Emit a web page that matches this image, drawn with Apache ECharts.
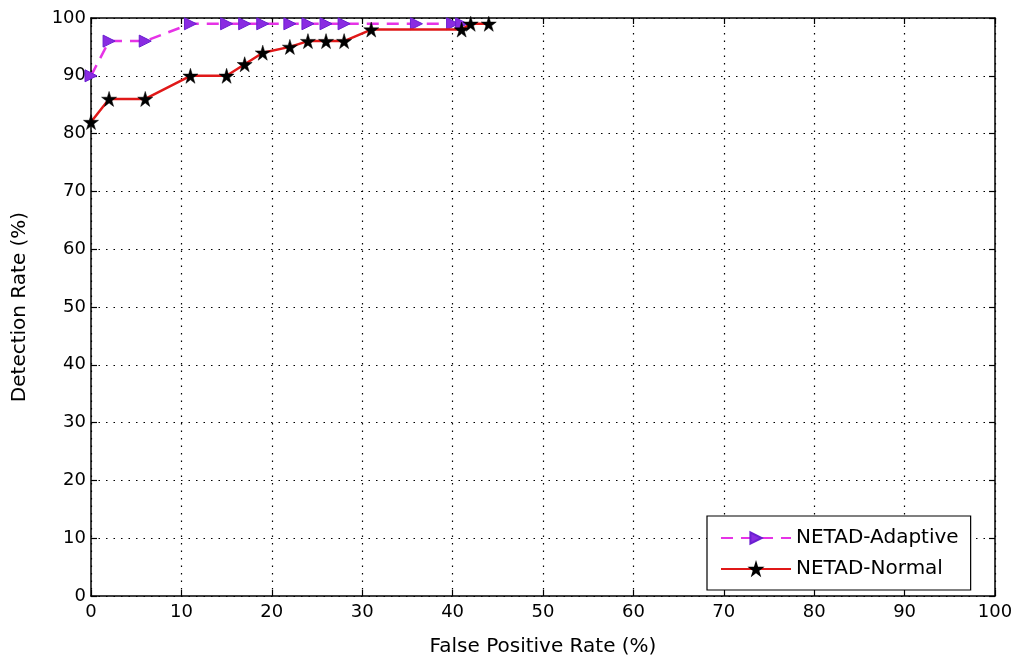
<!DOCTYPE html>
<html>
<head>
<meta charset="utf-8">
<script src="https://cdn.jsdelivr.net/npm/echarts@6/dist/echarts.min.js"></script>
<style>
html,body{margin:0;padding:0;background:#fff;}
#chart{width:1019px;height:662px;}
</style>
</head>
<body>
<div id="chart"></div>
<script>
// ROC-style comparison: false positive rate vs detection rate
const adaptiveFPR = [0, 2, 6, 11, 15, 17, 19, 22, 24, 26, 28, 36, 40, 41];
const adaptiveDR  = [90, 96, 96, 99, 99, 99, 99, 99, 99, 99, 99, 99, 99, 99];
const normalFPR = [0, 2, 6, 11, 15, 17, 19, 22, 24, 26, 28, 31, 41, 42, 44];
const normalDR  = [82, 86, 86, 90, 90, 92, 94, 95, 96, 96, 96, 98, 98, 99, 99];
const tickValues = [0, 10, 20, 30, 40, 50, 60, 70, 80, 90, 100];

const STAR = 'path://M50,0 L61,35 L98,35 L68,57 L79,91 L50,70 L21,91 L32,57 L2,35 L39,35 Z';
const FONT = 'DejaVu Sans, Verdana, sans-serif';

const pairs = (xs, ys) => xs.map((x, i) => [x, ys[i]]);

const chart = echarts.init(document.getElementById('chart'));

const baseAxis = {
  min: tickValues[0],
  max: tickValues[tickValues.length - 1],
  interval: 10,
  axisLine: { show: true, onZero: false, lineStyle: { color: '#000', width: 1.5 } },
  axisTick: { show: true, inside: true, length: 6, lineStyle: { color: '#000', width: 1.2 } },
  axisLabel: { color: '#000', fontSize: 18, fontFamily: FONT, margin: 5 },
  splitLine: { show: false }
};

const gridDots = { show: true, lineStyle: { color: '#000', type: [1.5, 6], width: 1.2 } };

chart.setOption({
  animation: false,
  backgroundColor: '#fff',
  grid: { left: 91, right: 24, top: 18, bottom: 64 },
  legend: {
    show: true,
    left: 707,
    top: 516,
    orient: 'vertical',
    backgroundColor: '#fff',
    borderColor: '#000',
    borderWidth: 1.2,
    borderRadius: 0,
    padding: [12, 12, 11, 13],
    itemGap: 11,
    itemWidth: 70,
    itemHeight: 14,
    textStyle: { color: '#000', fontSize: 20, fontFamily: FONT },
    data: ['NETAD-Adaptive', 'NETAD-Normal']
  },
  xAxis: [
    Object.assign({}, baseAxis, {
      type: 'value',
      position: 'bottom',
      name: 'False Positive Rate (%)',
      nameLocation: 'middle',
      nameGap: 41,
      nameTextStyle: { color: '#000', fontSize: 20, fontFamily: FONT },
      axisLabel: Object.assign({}, baseAxis.axisLabel, { margin: 7 }),
      splitLine: gridDots
    }),
    Object.assign({}, baseAxis, {
      type: 'value',
      position: 'top',
      axisLabel: { show: false }
    })
  ],
  yAxis: [
    Object.assign({}, baseAxis, {
      type: 'value',
      position: 'left',
      name: 'Detection Rate (%)',
      nameLocation: 'middle',
      nameGap: 61,
      nameTextStyle: { color: '#000', fontSize: 20, fontFamily: FONT },
      splitLine: gridDots
    }),
    Object.assign({}, baseAxis, {
      type: 'value',
      position: 'right',
      axisLabel: { show: false }
    })
  ],
  series: [
    {
      name: 'NETAD-Adaptive',
      type: 'line',
      data: pairs(adaptiveFPR, adaptiveDR),
      symbol: 'triangle',
      symbolRotate: -90,
      symbolSize: 12,
      lineStyle: { color: '#e633e6', width: 2.5, type: [12, 8] },
      itemStyle: { color: '#8a2be2', borderColor: '#6a1fd0', borderWidth: 1 },
      z: 3
    },
    {
      name: 'NETAD-Normal',
      type: 'line',
      data: pairs(normalFPR, normalDR),
      symbol: STAR,
      symbolSize: 15,
      lineStyle: { color: '#e01818', width: 2.5 },
      itemStyle: { color: '#000', borderColor: '#000', borderWidth: 0.5 },
      z: 4
    }
  ]
});
</script>
</body>
</html>
